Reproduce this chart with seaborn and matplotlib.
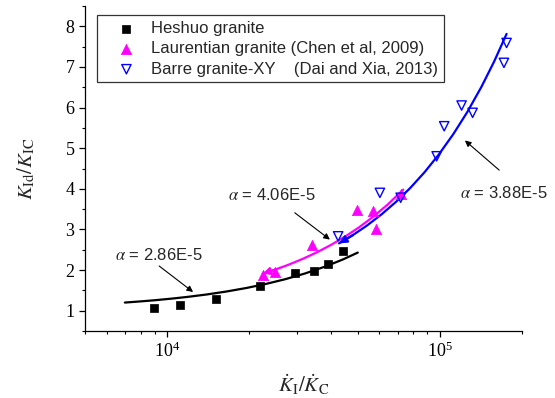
import matplotlib
matplotlib.use("Agg")
import matplotlib.pyplot as plt
from matplotlib.ticker import LogLocator, MultipleLocator
import seaborn as sns
import pandas as pd

# measured points
heshuo_x = [8940, 11130, 15090, 21930, 29380, 34500, 38930, 44170]
heshuo_y = [1.07, 1.13, 1.30, 1.61, 1.92, 1.97, 2.15, 2.46]

laur_x = [22400, 24830, 33840, 49750, 56940, 58220, 71750]
laur_y = [1.89, 1.95, 2.61, 3.49, 3.45, 3.02, 3.88]

barre_x = [42360, 60260, 71800, 97300, 103700, 120100, 131800, 171700, 175600]
barre_y = [2.83, 3.90, 3.78, 4.80, 5.54, 6.05, 5.87, 7.10, 7.59]

# fitted curves
fit_black_x = [7000, 8000, 9000, 10500, 12000, 14000, 16500, 19500, 23000, 27000, 32000, 38000, 44000, 50000]
fit_black_y = [1.200, 1.229, 1.257, 1.300, 1.343, 1.400, 1.472, 1.558, 1.658, 1.772, 1.915, 2.087, 2.258, 2.430]

fit_pink_x = [22400, 25000, 28000, 31500, 35500, 40000, 45000, 50500, 57000, 64500, 73400]
fit_pink_y = [1.909, 2.015, 2.137, 2.279, 2.441, 2.624, 2.827, 3.050, 3.314, 3.619, 3.980]

fit_blue_x = [42700, 48000, 54000, 61000, 69000, 78000, 88000, 99000, 112000, 126000, 142000, 158000, 175600]
fit_blue_y = [2.657, 2.862, 3.095, 3.367, 3.677, 4.026, 4.414, 4.841, 5.346, 5.889, 6.510, 7.130, 7.813]

alpha_labels = ["2.86E-5", "4.06E-5", "3.88E-5"]

sns.set_theme(style="ticks")
plt.rcParams["font.family"] = ["Liberation Serif", "DejaVu Serif"]
plt.rcParams["mathtext.fontset"] = "stix"
plt.rcParams["axes.linewidth"] = 0.9
plt.rcParams["axes.edgecolor"] = "black"
plt.rcParams["xtick.color"] = "black"
plt.rcParams["ytick.color"] = "black"

BLACK, PINK, BLUE = "#000000", "#FF00FF", "#0000FF"
SANS = ["Liberation Sans", "DejaVu Sans"]

fig = plt.figure(figsize=(5.55, 3.98), dpi=100)
ax = fig.add_axes([85 / 555, 1 - 331 / 398, 437 / 555, 325 / 398])
ax.set_xscale("log")

# fit lines
for fx, fy, col in [(fit_black_x, fit_black_y, BLACK),
                    (fit_pink_x, fit_pink_y, PINK),
                    (fit_blue_x, fit_blue_y, BLUE)]:
    sns.lineplot(x=fx, y=fy, color=col, lw=1.6, sort=False, estimator=None, ax=ax)

# arrow heads at the lower ends of the pink and blue fits
for fx, fy, col in [(fit_pink_x, fit_pink_y, PINK), (fit_blue_x, fit_blue_y, BLUE)]:
    ax.annotate("", xy=(fx[0], fy[0]), xytext=(fx[1], fy[1]),
                arrowprops=dict(arrowstyle="-|>", color=col, lw=1.6, mutation_scale=11,
                                shrinkA=0, shrinkB=0))

# data points
sns.scatterplot(x=heshuo_x, y=heshuo_y, marker="s", color=BLACK, s=40,
                edgecolor=BLACK, linewidth=0.5, label="Heshuo granite", ax=ax, zorder=3)
sns.scatterplot(x=laur_x, y=laur_y, marker="^", color=PINK, s=55,
                edgecolor=PINK, linewidth=0.5, label="Laurentian granite (Chen et al, 2009)",
                ax=ax, zorder=3)
sns.scatterplot(x=barre_x, y=barre_y, marker="v", color=BLUE, s=45,
                edgecolor=BLUE, linewidth=1.0,
                label="Barre granite-XY    (Dai and Xia, 2013)", ax=ax, zorder=3)
ax.collections[-1].set_facecolor("none")
ax.collections[-1].set_edgecolor(BLUE)

ax.set_xlim(5000, 200000)
ax.set_ylim(0.5, 8.5)
ax.xaxis.set_major_locator(LogLocator(base=10, numticks=10))
ax.xaxis.set_minor_locator(LogLocator(base=10, subs=range(2, 10), numticks=20))
ax.yaxis.set_major_locator(MultipleLocator(1))
ax.yaxis.set_minor_locator(MultipleLocator(0.5))
ax.tick_params(which="major", direction="out", length=4.5, width=0.9, labelsize=13, pad=3)
ax.tick_params(which="minor", direction="out", length=2.5, width=0.8)
sns.despine(ax=ax)

ax.set_xlabel(r"$\dot{K}_{\rm I}/\dot{K}_{\rm C}$", fontsize=15, labelpad=9)
ax.set_ylabel(r"$K_{\rm Id}/K_{\rm IC}$", fontsize=15, labelpad=20)

# alpha annotations
ann = [
    (alpha_labels[0], (6430, 2.36), (9350, 2.10), (12450, 1.46)),
    (alpha_labels[1], (16740, 3.86), (29380, 3.41), (39520, 2.75)),
    (alpha_labels[2], (118400, 3.90), (165000, 4.46), (123500, 5.19)),
]
for lab, tpos, tail, head in ann:
    ax.text(tpos[0], tpos[1], r"$\alpha$ = " + lab, family=SANS, fontsize=12,
            ha="left", va="center")
    ax.annotate("", xy=head, xytext=tail,
                arrowprops=dict(arrowstyle="-|>", color="black", lw=0.8,
                                mutation_scale=9, shrinkA=0, shrinkB=0))

leg = ax.legend(loc="upper left", bbox_to_anchor=(0.028, 0.972), borderaxespad=0,
                prop={"family": SANS, "size": 12}, fancybox=False, frameon=True,
                edgecolor="#333333", framealpha=1, handlelength=2.8, handletextpad=0.1,
                borderpad=0.35, labelspacing=0.32, scatterpoints=1)
leg.get_frame().set_linewidth(0.9)

fig.savefig("out.png", dpi=100)
